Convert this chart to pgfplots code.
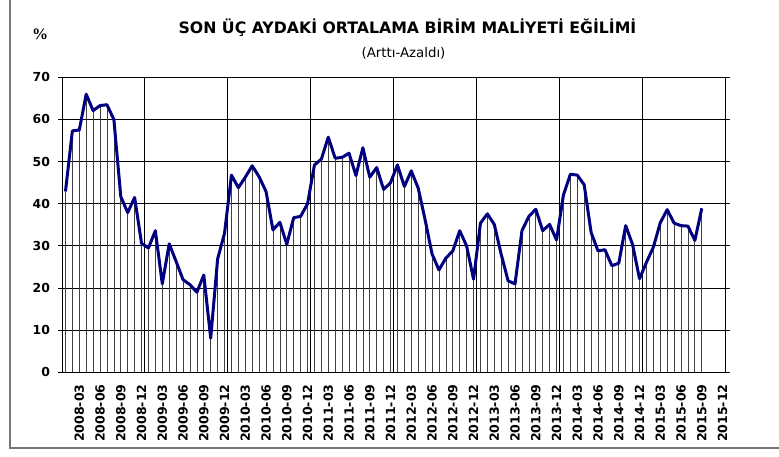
\documentclass[border=0pt]{standalone}
\usepackage{pgfplots}
\pgfplotsset{compat=1.18}
\usepackage{pgfplotstable}
\usepackage{fontspec}
\setmainfont{DejaVu Sans}
\newfontfamily\serifb{Liberation Serif}
\definecolor{navyline}{RGB}{0,0,128}
\definecolor{framegray}{RGB}{120,120,120}

\pgfplotstableread{
x y
0.5 42.9
1.5 57.3
2.5 57.5
3.5 66.0
4.5 62.1
5.5 63.3
6.5 63.5
7.5 60.0
8.5 41.7
9.5 37.9
10.5 41.5
11.5 30.6
12.5 29.5
13.5 33.6
14.5 21.0
15.5 30.5
16.5 26.3
17.5 22.0
18.5 20.8
19.5 19.0
20.5 23.1
21.5 8.1
22.5 26.9
23.5 33.0
24.5 46.8
25.5 43.8
26.5 46.3
27.5 49.0
28.5 46.4
29.5 42.9
30.5 33.8
31.5 35.6
32.5 30.4
33.5 36.7
34.5 37.0
35.5 40.0
36.5 49.2
37.5 50.6
38.5 55.8
39.5 50.8
40.5 51.0
41.5 52.0
42.5 46.7
43.5 53.3
44.5 46.3
45.5 48.6
46.5 43.4
47.5 45.0
48.5 49.2
49.5 44.1
50.5 47.8
51.5 43.7
52.5 36.2
53.5 28.1
54.5 24.3
55.5 27.1
56.5 28.8
57.5 33.6
58.5 30.0
59.5 22.1
60.5 35.4
61.5 37.6
62.5 35.1
63.5 28.0
64.5 21.7
65.5 21.0
66.5 33.6
67.5 37.0
68.5 38.7
69.5 33.6
70.5 35.1
71.5 31.4
72.5 42.1
73.5 47.0
74.5 46.8
75.5 44.5
76.5 33.2
77.5 28.8
78.5 29.1
79.5 25.3
80.5 25.9
81.5 34.8
82.5 30.3
83.5 22.2
84.5 26.1
85.5 29.7
86.5 35.5
87.5 38.6
88.5 35.4
89.5 34.8
90.5 34.7
91.5 31.3
92.5 38.9
}\datatable

\begin{document}
\begin{tikzpicture}[x=0.75pt,y=0.75pt]
\path[use as bounding box] (0,0) rectangle (779,457);
\fill[white] (0,0) rectangle (779,457);
\draw[framegray, line width=1.1pt] (10,457) -- (10,9) -- (779,9);
\begin{axis}[
  at={(46.5pt,63.5pt)}, anchor=south west,
  scale only axis, width=498pt, height=221.25pt,
  xmin=0, xmax=96, ymin=0, ymax=70,
  ytick={0,10,...,70},
  xtick={2.5,5.5,...,95.5},
  xticklabels={2008-03,2008-06,2008-09,2008-12,2009-03,2009-06,2009-09,2009-12,2010-03,2010-06,2010-09,2010-12,2011-03,2011-06,2011-09,2011-12,2012-03,2012-06,2012-09,2012-12,2013-03,2013-06,2013-09,2013-12,2014-03,2014-06,2014-09,2014-12,2015-03,2015-06,2015-09,2015-12},
  minor xtick={12,24,36,48,60,72,84},
  ymajorgrids, xminorgrids,
  major grid style={black, line width=0.75pt},
  minor grid style={black, line width=0.75pt},
  x tick style={draw=none},
  minor x tick style={draw=none},
  y tick style={black, line width=0.75pt},
  tick align=outside,
  major tick length=3pt,
  axis line style={black, line width=0.75pt},
  /pgf/number format/assume math mode=true,
  xticklabel shift=2.5pt,
  yticklabel shift=2.5pt,
  x tick label style={rotate=90, anchor=east, font=\bfseries\fontsize{9.4}{10}\selectfont},
  y tick label style={font=\bfseries\fontsize{9.3}{10}\selectfont},
]
\addplot[ycomb, black!75, line width=0.55pt, no markers] table[x=x,y=y] {\datatable};
\addplot[navyline, line width=2.25pt, line join=round, no markers] table[x=x,y=y] {\datatable};
\end{axis}
\node[anchor=base, font=\bfseries\fontsize{11.8}{14}\selectfont] at (407.5,423.7) {SON ÜÇ AYDAKİ ORTALAMA BİRİM MALİYETİ EĞİLİMİ};
\node[font=\fontsize{10}{12}\selectfont] at (403.5,404) {(Arttı-Azaldı)};
\node[font=\serifb\bfseries\fontsize{12}{13}\selectfont] at (40,423) {\%};
\end{tikzpicture}
\end{document}
